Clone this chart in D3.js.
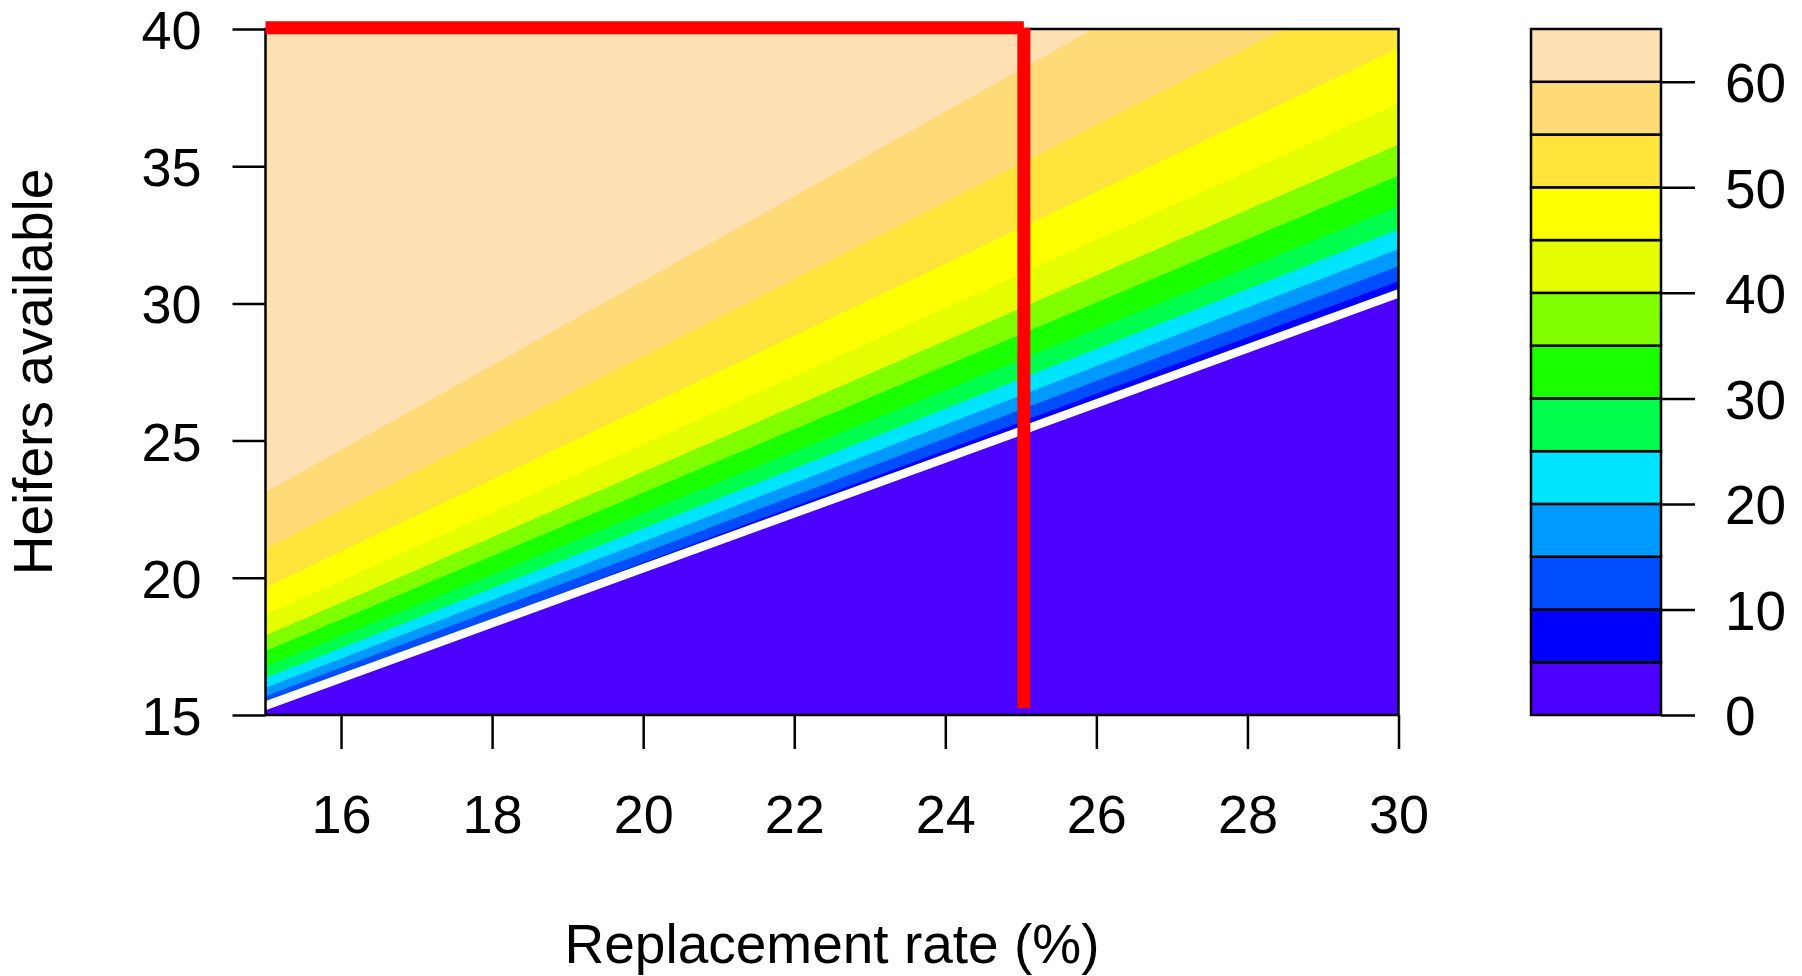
<!DOCTYPE html>
<html>
<head>
<meta charset="utf-8">
<script src="https://cdn.jsdelivr.net/npm/d3@7.9.0/dist/d3.min.js"></script>
<style>
  body { margin: 0; background: #fff; }
  svg { display: block; font-family: "Liberation Sans", Arial, sans-serif; }
</style>
</head>
<body>
<svg id="chart" width="1802" height="976"></svg>
<script>
// band edges of the filled contour (value levels) and the colours R gives them
const levels = [0, 5, 10, 15, 20, 25, 30, 35, 40, 45, 50, 55, 60, 65];
const bandColors = ['#4C00FF', '#0000FF', '#004CFF', '#0099FF', '#00E5FF', '#00FF4D',
                    '#1AFF00', '#80FF00', '#E6FF00', '#FFFF00', '#FFE53B', '#FFDB77', '#FFE0B3'];

// each contour line is straight: heifers where it crosses x=15 and x=30
const contourLevels = [5, 10, 15, 20, 25, 30, 35, 40, 45, 50, 55, 60];
const yAt15 = [15.26, 15.41, 15.68, 15.99, 16.35, 16.77, 17.33, 17.90, 18.65, 19.65, 21.06, 23.12];
const yAt30 = [30.51, 30.81, 31.35, 31.98, 32.70, 33.54, 34.65, 35.79, 37.29, 39.30, 42.12, 46.23];

// white break-even line
const whiteX = [15, 30];
const whiteY = [15.34, 30.36];

// red marker lines
const redX = [15, 25.04, 25.04];
const redY = [40.05, 40.05, 15.25];

const xTicks = [16, 18, 20, 22, 24, 26, 28, 30];
const yTicks = [15, 20, 25, 30, 35, 40];
const legendTicks = [0, 10, 20, 30, 40, 50, 60];

const svg = d3.select('#chart');

let x = d3.scaleLinear().domain([15, 30]).range([265.5, 1398.5]);
let y = d3.scaleLinear().domain([15, 40]).range([715, 29]);
let ly = d3.scaleLinear().domain([0, 65]).range([715, 29]);
const legendLeft = 1531, legendRight = 1661;

svg.append('clipPath').attr('id', 'plotclip')
    .append('rect')
    .attr('x', x(15)).attr('y', y(40))
    .attr('width', x(30) - x(15)).attr('height', y(15) - y(40));

const plot = svg.append('g').attr('clip-path', 'url(#plotclip)');

let line = d3.line().x((d) => x(d[0])).y((d) => y(d[1]));

// lowest band fills the plot, then each band above its lower contour is laid over it
plot.append('rect')
    .attr('x', x(15)).attr('y', y(40))
    .attr('width', x(30) - x(15)).attr('height', y(15) - y(40))
    .attr('fill', bandColors[0]);

const yTop = Math.max(40, d3.max(yAt30)) + 1;
contourLevels.forEach((lev, i) => {
    let pts = [[15, yAt15[i]], [30, yAt30[i]], [30, yTop], [15, yTop]];
    plot.append('path')
        .attr('d', line(pts) + 'Z')
        .attr('fill', bandColors[levels.indexOf(lev)]);
});

plot.append('path')
    .attr('d', line(whiteX.map((d, i) => [d, whiteY[i]])))
    .attr('stroke', '#fff')
    .attr('stroke-width', 8.5)
    .attr('fill', 'none');

// box
svg.append('rect')
    .attr('x', x(15)).attr('y', y(40))
    .attr('width', x(30) - x(15)).attr('height', y(15) - y(40))
    .attr('fill', 'none').attr('stroke', '#000').attr('stroke-width', 2.5);

const xAxis = svg.append('g')
    .attr('transform', `translate(0,${y(15)})`)
    .call(d3.axisBottom(x).tickValues(xTicks).tickSize(34).tickPadding(46).tickFormat(d3.format('d')));

const yAxis = svg.append('g')
    .attr('transform', `translate(${x(15)},0)`)
    .call(d3.axisLeft(y).tickValues(yTicks).tickSize(33).tickPadding(31).tickFormat(d3.format('d')));

[xAxis, yAxis].forEach((g) => {
    g.select('.domain').remove();
    g.selectAll('line').attr('stroke', '#000').attr('stroke-width', 2.5);
    g.selectAll('text')
        .attr('fill', '#000')
        .style('font-family', '"Liberation Sans", Arial, sans-serif')
        .style('font-size', '54px');
});
yAxis.selectAll('text').attr('dy', '0.36em');

// red lines
svg.append('line')
    .attr('x1', x(redX[0])).attr('y1', y(redY[0]))
    .attr('x2', x(redX[1])).attr('y2', y(redY[1]))
    .attr('stroke', '#FF0000').attr('stroke-width', 13);
svg.append('line')
    .attr('x1', x(redX[1])).attr('y1', y(redY[1]))
    .attr('x2', x(redX[2])).attr('y2', y(redY[2]))
    .attr('stroke', '#FF0000').attr('stroke-width', 13);

// axis titles
svg.append('text')
    .attr('x', (x(15) + x(30)) / 2).attr('y', 963)
    .attr('text-anchor', 'middle')
    .style('font-size', '55px')
    .text('Replacement rate (%)');

svg.append('text')
    .attr('transform', `translate(52,${(y(15) + y(40)) / 2}) rotate(-90)`)
    .attr('text-anchor', 'middle')
    .style('font-size', '55px')
    .text('Heifers available');

// colour key
const legend = svg.append('g');
bandColors.forEach((c, i) => {
    legend.append('rect')
        .attr('x', legendLeft)
        .attr('y', ly(levels[i + 1]))
        .attr('width', legendRight - legendLeft)
        .attr('height', ly(levels[i]) - ly(levels[i + 1]))
        .attr('fill', c)
        .attr('stroke', '#000')
        .attr('stroke-width', 2.5);
});

const lAxis = svg.append('g')
    .attr('transform', `translate(${legendRight},0)`)
    .call(d3.axisRight(ly).tickValues(legendTicks).tickSize(34).tickPadding(30).tickFormat(d3.format('d')));
lAxis.select('.domain').remove();
lAxis.selectAll('line').attr('stroke', '#000').attr('stroke-width', 2.5);
lAxis.selectAll('text')
    .attr('fill', '#000')
    .attr('dy', '0.36em')
    .style('font-family', '"Liberation Sans", Arial, sans-serif')
    .style('font-size', '55px');
</script>
</body>
</html>
